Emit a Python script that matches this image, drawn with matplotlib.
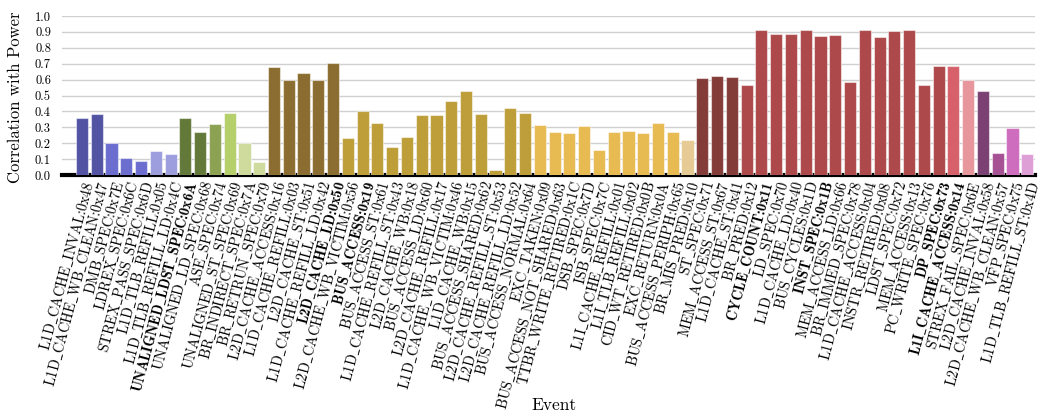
import matplotlib
matplotlib.use("Agg")
import matplotlib.pyplot as plt
import numpy as np

# event names, correlation values, and which ones are highlighted (bold)
events = [
    "L1D_CACHE_INVAL:0x48", "L1D_CACHE_WB_CLEAN:0x47", "DMB_SPEC:0x7E", "LDREX_SPEC:0x6C",
    "STREX_PASS_SPEC:0x6D", "L1D_TLB_REFILL:0x05", "L1D_TLB_REFILL_LD:0x4C",
    "UNALIGNED_LDST_SPEC:0x6A", "UNALIGNED_LD_SPEC:0x68", "ASE_SPEC:0x74",
    "UNALIGNED_ST_SPEC:0x69", "BR_INDIRECT_SPEC:0x7A", "BR_RETRUN_SPEC:0x79",
    "L2D_CACHE_ACCESS:0x16", "L1D_CACHE_REFILL:0x03", "L2D_CACHE_ST:0x51",
    "L1D_CACHE_REFILL_LD:0x42", "L2D_CACHE_LD:0x50", "L2D_CACHE_WB_VICTIM:0x56",
    "BUS_ACCESS:0x19", "BUS_ACCESS_ST:0x61", "L1D_CACHE_REFILL_ST:0x43", "L2D_CACHE_WB:0x18",
    "BUS_ACCESS_LD:0x60", "L2D_CACHE_REFILL:0x17", "L1D_CACHE_WB_VICTIM:0x46",
    "L1D_CACHE_WB:0x15", "BUS_ACCESS_SHARED:0x62", "L2D_CACHE_REFILL_ST:0x53",
    "L2D_CACHE_REFILL_LD:0x52", "BUS_ACCESS_NORMAL:0x64", "EXC_TAKEN:0x09",
    "BUS_ACCESS_NOT_SHARED:0x63", "TTBR_WRITE_RETIRED:0x1C", "DSB_SPEC:0x7D", "ISB_SPEC:0x7C",
    "L1I_CACHE_REFILL:0x01", "L1I_TLB_REFILL:0x02", "CID_WT_RETIRED:0x0B", "EXC_RETURN:0x0A",
    "BUS_ACCESS_PERIPH:0x65", "BR_MIS_PRED:0x10", "ST_SPEC:0x71", "MEM_ACCESS_ST:0x67",
    "L1D_CACHE_ST:0x41", "BR_PRED:0x12", "CYCLE_COUNT:0x11", "LD_SPEC:0x70",
    "L1D_CACHE_LD:0x40", "BUS_CYCLES:0x1D", "INST_SPEC:0x1B", "MEM_ACCESS_LD:0x66",
    "BR_IMMED_SPEC:0x78", "L1D_CACHE_ACCESS:0x04", "INSTR_RETIRED:0x08", "LDST_SPEC:0x72",
    "MEM_ACCESS:0x13", "PC_WRITE_SPEC:0x76", "DP_SPEC:0x73", "L1I_CACHE_ACCESS:0x14",
    "STREX_FAIL_SPEC:0x6E", "L2D_CACHE_INVAL:0x58", "L2D_CACHE_WB_CLEAN:0x57", "VFP_SPEC:0x75",
    "L1D_TLB_REFILL_ST:0x4D",
]
corr = [
    0.36, 0.385, 0.20, 0.105, 0.09, 0.15, 0.13,
    0.36, 0.27, 0.32, 0.39, 0.205, 0.08,
    0.68, 0.60, 0.64, 0.595, 0.705, 0.235,
    0.40, 0.325, 0.175, 0.24, 0.375, 0.375, 0.465, 0.53, 0.385, 0.03, 0.425, 0.39,
    0.315, 0.27, 0.265, 0.31, 0.155, 0.27, 0.275, 0.265, 0.33, 0.27, 0.22,
    0.61, 0.62, 0.615, 0.565, 0.91, 0.89, 0.89, 0.91, 0.875, 0.88, 0.585,
    0.915, 0.865, 0.905, 0.915, 0.565, 0.685, 0.685, 0.60, 0.53, 0.14, 0.295, 0.13,
]
bold_events = ["UNALIGNED_LDST_SPEC:0x6A", "L2D_CACHE_LD:0x50", "BUS_ACCESS:0x19",
               "CYCLE_COUNT:0x11", "INST_SPEC:0x1B", "DP_SPEC:0x73", "L1I_CACHE_ACCESS:0x14"]

# tab20b colour index per bar (grouped like the original)
color_idx = ([1] * 2 + [2] * 3 + [3] * 2 + [4] * 2 + [5] + [6] + [7] * 2 +
             [8] * 5 + [9] * 13 + [10] * 10 + [11] + [12] * 3 + [13] * 14 +
             [14] + [15] + [16] + [17] + [18] + [19])

plt.rcParams['font.family'] = 'serif'
plt.rcParams['font.serif'] = ['cmr10', 'DejaVu Serif']
plt.rcParams['mathtext.fontset'] = 'cm'
plt.rcParams['axes.unicode_minus'] = False

cmap = plt.get_cmap('tab20b')
colors = [cmap(i) for i in color_idx]

fig = plt.figure(figsize=(10.41, 4.16), dpi=100)
ax = fig.add_axes([0.0596, 0.579, 0.935, 0.3825])

x = np.arange(len(events))
ax.bar(x, corr, width=0.82, color=colors, edgecolor=(1, 1, 1, 0.5), linewidth=0.8, zorder=3)

ax.set_ylim(0, 1.0)
ax.set_xlim(-1.35, len(events) - 0.45)
ax.set_yticks(np.arange(0, 1.01, 0.1))
ax.set_yticklabels([f"{v:.1f}" for v in np.arange(0, 1.01, 0.1)], fontsize=9)
ax.yaxis.grid(True, color='#d0d0d0', linewidth=1.0, zorder=0)
ax.set_axisbelow(True)

# underscores via mathtext, the rest in cmr10 / cmb10
ax.set_xticks(x)
ax.set_xticklabels([e.replace("_", r"$\_$") for e in events], rotation=75, ha='right',
                   rotation_mode='anchor', fontsize=10.3)
for lbl, e in zip(ax.get_xticklabels(), events):
    if e in bold_events:
        lbl.set_family('cmb10')
ax.tick_params(axis='x', length=0, pad=3)
ax.tick_params(axis='y', length=0, pad=8)

for side in ['top', 'right', 'left']:
    ax.spines[side].set_visible(False)
ax.spines['bottom'].set_linewidth(3)
ax.spines['bottom'].set_color('black')

ax.set_ylabel("Correlation with Power", fontsize=12)
ax.yaxis.set_label_coords(-0.040, 0.49)
fig.text(0.532, 0.007, "Event", ha='center', va='bottom', fontsize=12.5)

fig.savefig("out.png", dpi=100)
